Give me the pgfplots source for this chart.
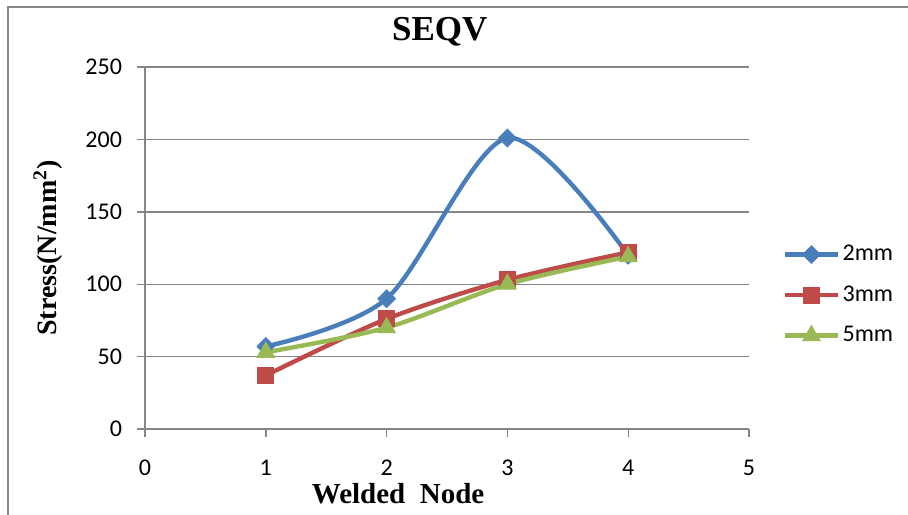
\documentclass[border=0pt]{standalone}
\usepackage{pgfplots}
\pgfplotsset{compat=1.18}
\usepackage{fontspec}
\setmainfont{Carlito}
\newfontfamily\tnr{Liberation Serif}
\definecolor{c2}{RGB}{74,126,187}
\definecolor{c3}{RGB}{190,75,72}
\definecolor{c5}{RGB}{152,185,84}
\definecolor{axgray}{RGB}{134,134,134}
\begin{document}
\begin{tikzpicture}
\useasboundingbox (0,0) rectangle (454pt,257pt);
\draw[axgray, line width=1pt] (3.75pt,-20pt) rectangle (480pt,253.25pt);
\begin{axis}[
  at={(72.5pt,42.5pt)}, anchor=origin,
  scale only axis, width=302pt, height=181pt,
  xmin=0, xmax=5, ymin=0, ymax=250,
  xtick={0,1,2,3,4,5}, ytick={0,50,100,150,200,250},
  axis x line=bottom, axis y line=left,
  axis line style={axgray, line width=0.7pt, -},
  tick align=outside, major tick length=4pt,
  tick style={axgray, line width=0.7pt},
  ymajorgrids, grid style={axgray, line width=0.7pt},
  /pgf/number format/assume math mode=true,
  tick label style={font=\fontsize{12}{14}\selectfont, black},
  xticklabel style={yshift=-8pt},
  yticklabel style={xshift=-4pt},
  every axis title/.style={at={(axis description cs:0.488,1.0967)}, anchor=center, font=\tnr\bfseries\fontsize{17.5}{20}\selectfont},
  title={SEQV},
  every axis x label/.style={at={(axis description cs:0.419,-0.1796)}, anchor=center, font=\tnr\bfseries\fontsize{14.5}{16}\selectfont},
  xlabel={Welded\ \ Node},
  every axis y label/.style={at={(axis description cs:-0.1606,0.5)}, anchor=center, rotate=90, font=\tnr\bfseries\fontsize{14}{16}\selectfont},
  ylabel={Stress(N/mm\textsuperscript{2})},
  legend style={at={(axis description cs:1.056,0.37)}, anchor=west, draw=none, fill=none,
    font=\fontsize{12}{14}\selectfont, row sep=8pt, inner sep=0pt,
    nodes={inner sep=1.5pt}},
  legend cell align=left,
  legend image code/.code={\draw[mark repeat=2,mark phase=2,#1] plot coordinates {(0pt,0pt)(13pt,0pt)(26pt,0pt)};},
  clip=false,
]
\addplot[c2, line width=2.2pt, smooth, tension=0.5, mark=square*, mark size=3.1pt, mark options={rotate=45, solid, line width=0.5pt}]
  coordinates {(1,57) (2,90) (3,201) (4,120)};
\addlegendentry{2mm}
\addplot[c3, line width=2.2pt, smooth, tension=0.5, mark=square*, mark size=4pt, mark options={solid, line width=0.5pt}]
  coordinates {(1,37) (2,76) (3,103) (4,122)};
\addlegendentry{3mm}
\addplot[c5, line width=2.2pt, smooth, tension=0.5, mark=triangle*, mark size=5pt, mark options={solid, line width=0.5pt}]
  coordinates {(1,53) (2,70) (3,100) (4,119)};
\addlegendentry{5mm}
\end{axis}
\end{tikzpicture}
\end{document}
